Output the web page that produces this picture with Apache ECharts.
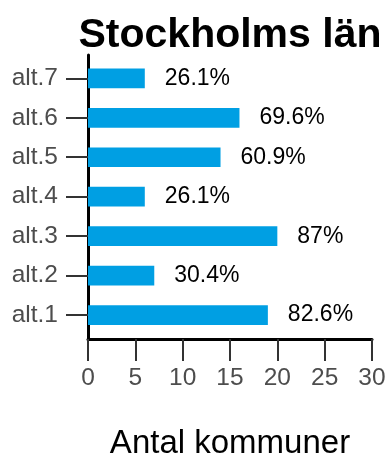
<!DOCTYPE html>
<html>
<head>
<meta charset="utf-8">
<script src="https://cdn.jsdelivr.net/npm/echarts@6/dist/echarts.min.js"></script>
<style>html,body{margin:0;padding:0;background:#fff}#c{width:390px;height:454px}</style>
</head>
<body>
<div id="c"></div>
<script>
const categories = ["alt.1", "alt.2", "alt.3", "alt.4", "alt.5", "alt.6", "alt.7"];
const counts = [19, 7, 20, 6, 14, 16, 6];
const percentLabels = ["82.6%", "30.4%", "87%", "26.1%", "60.9%", "69.6%", "26.1%"];
const xTicks = [0, 5, 10, 15, 20, 25, 30];

const FONT = "Liberation Sans, Arial, sans-serif";
const chart = echarts.init(document.getElementById('c'), null, {renderer: 'canvas'});
chart.setOption({
  animation: false,
  backgroundColor: '#fff',
  title: {
    text: 'Stockholms län',
    left: 225, textAlign: 'center', top: 10,
    textStyle: {fontFamily: FONT, fontWeight: 'bold', fontSize: 41, color: '#000'}
  },
  grid: [
    {left: 88, right: 18, top: 55, bottom: 115, containLabel: false, outerBoundsMode: 'none'},
    {left: 88, right: 18, top: 58.6, bottom: 119.2, containLabel: false, outerBoundsMode: 'none'}
  ],
  xAxis: [
    {
      gridIndex: 0, type: 'value', min: xTicks[0], max: xTicks[xTicks.length - 1], interval: 5,
      axisLine: {show: true, lineStyle: {color: '#000', width: 3}},
      axisTick: {show: true, length: 22, lineStyle: {color: '#333', width: 2}},
      axisLabel: {margin: 27, fontFamily: FONT, fontSize: 24.5, color: '#4d4d4d'},
      splitLine: {show: false},
      name: 'Antal kommuner', nameLocation: 'middle', nameGap: 88,
      nameTextStyle: {fontFamily: FONT, fontSize: 33, color: '#000'}
    },
    {
      gridIndex: 1, type: 'value', min: 0, max: 30, show: false, splitLine: {show: false}
    }
  ],
  yAxis: [
    {
      gridIndex: 0, type: 'value', min: 0, max: 1,
      axisLine: {show: true, lineStyle: {color: '#000', width: 3}},
      axisTick: {show: false}, axisLabel: {show: false}, splitLine: {show: false}
    },
    {
      gridIndex: 1, type: 'category', data: categories,
      axisLine: {show: false},
      axisTick: {show: true, alignWithLabel: true, length: 22, lineStyle: {color: '#333', width: 2}},
      axisLabel: {margin: 30, fontFamily: FONT, fontSize: 24.5, color: '#4d4d4d'},
      splitLine: {show: false}
    }
  ],
  series: [{
    type: 'bar', xAxisIndex: 1, yAxisIndex: 1,
    data: counts,
    barWidth: '50%',
    itemStyle: {color: '#009fe3'},
    label: {
      show: true, position: 'right', distance: 20,
      formatter: p => percentLabels[p.dataIndex],
      fontFamily: FONT, fontSize: 23, color: '#000'
    }
  }]
});
</script>
</body>
</html>
